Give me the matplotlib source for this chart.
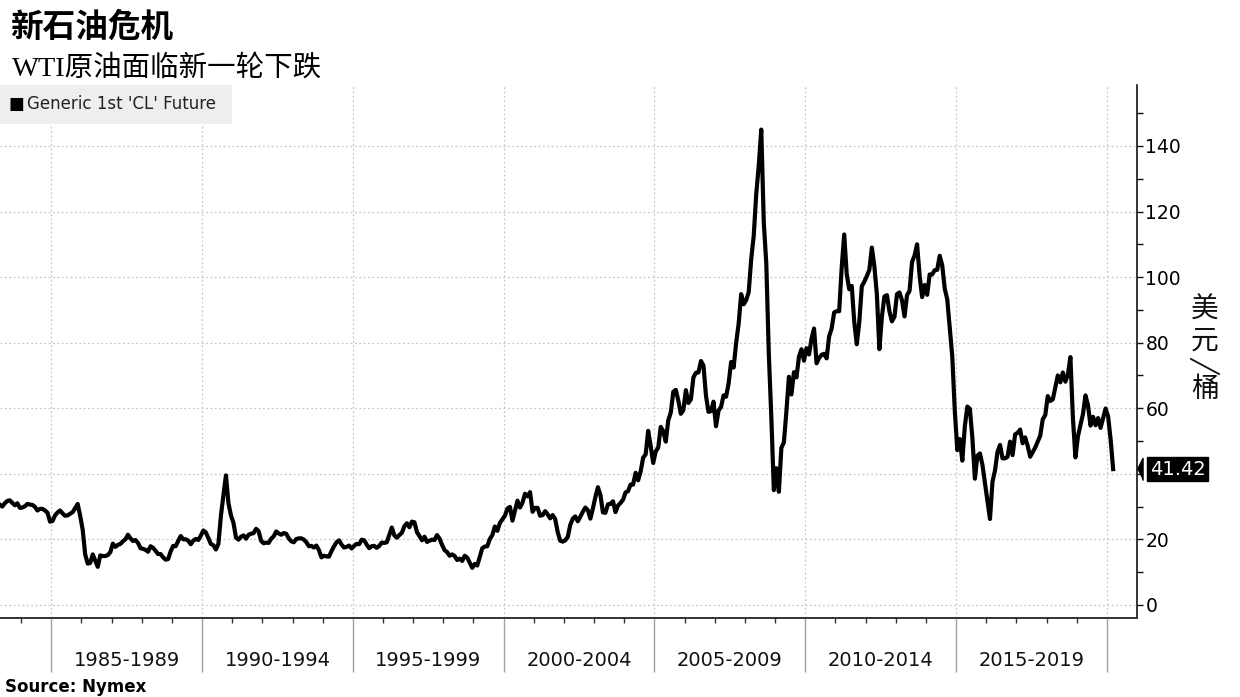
import matplotlib
matplotlib.use('Agg')
import matplotlib.pyplot as plt
import matplotlib.transforms as mtransforms
from matplotlib.patches import Rectangle
from matplotlib.lines import Line2D
import numpy as np
import pandas as pd

# monthly WTI front-month price (USD/bbl), Apr 1983 .. Mar 2020
start_month = '1983-04-01'
wti_price = [
    30.6, 30.0, 31.0, 31.7, 31.9, 31.1, 30.4, 31.0, 29.6,                    # 1983
    29.7, 30.1, 30.8, 30.6, 30.5, 29.9, 28.8, 29.3, 29.3, 28.8, 28.1, 25.4,  # 1984
    25.6, 27.3, 28.2, 28.8, 27.9, 27.2, 27.3, 27.8, 28.3, 29.5, 30.8, 27.2,  # 1985
    22.9, 15.4, 12.6, 12.8, 15.4, 13.5, 11.6, 15.1, 14.9, 14.9, 15.2, 16.1,  # 1986
    18.7, 17.7, 18.3, 18.6, 19.4, 20.0, 21.4, 20.3, 19.5, 19.8, 18.9, 17.3,  # 1987
    17.1, 16.8, 16.2, 17.9, 17.4, 16.5, 15.5, 15.5, 14.5, 13.8, 14.0, 16.3,  # 1988
    18.0, 17.9, 19.5, 21.0, 20.0, 20.0, 19.6, 18.5, 19.6, 20.1, 19.8, 21.1,  # 1989
    22.7, 22.1, 20.4, 18.6, 18.2, 16.9, 18.6, 27.2, 33.5, 39.5, 31.0, 27.3,  # 1990
    25.0, 20.5, 19.9, 20.8, 21.2, 20.2, 21.4, 21.7, 21.9, 23.2, 22.5, 19.5,  # 1991
    18.8, 19.0, 18.9, 20.2, 20.9, 22.4, 21.8, 21.4, 21.9, 21.7, 20.3, 19.4,  # 1992
    19.1, 20.1, 20.3, 20.3, 19.9, 19.1, 17.9, 18.0, 17.5, 18.1, 16.7, 14.5,  # 1993
    15.0, 14.8, 14.7, 16.4, 17.9, 19.1, 19.7, 18.4, 17.5, 17.7, 18.1, 17.2,  # 1994
    18.0, 18.6, 18.5, 19.9, 19.7, 18.4, 17.3, 17.9, 18.0, 17.4, 18.0, 19.0,  # 1995
    18.9, 19.1, 21.4, 23.6, 21.2, 20.5, 21.3, 22.0, 24.0, 24.9, 23.7, 25.4,  # 1996
    25.2, 22.2, 21.0, 19.7, 20.8, 19.2, 19.6, 19.9, 19.8, 21.3, 20.2, 18.3,  # 1997
    16.7, 16.1, 15.0, 15.4, 14.9, 13.7, 14.1, 13.4, 15.0, 14.4, 12.9, 11.3,  # 1998
    12.5, 12.0, 14.7, 17.3, 17.8, 17.9, 20.1, 21.3, 23.9, 22.6, 25.0, 26.1,  # 1999
    27.2, 29.4, 29.9, 25.7, 28.8, 31.8, 29.7, 31.2, 33.9, 33.1, 34.4, 28.4,  # 2000
    29.6, 29.6, 27.2, 27.4, 28.6, 27.6, 26.4, 27.4, 26.2, 22.2, 19.6, 19.3,  # 2001
    19.7, 20.7, 24.4, 26.3, 27.0, 25.5, 26.9, 28.4, 29.7, 28.9, 26.3, 29.4,  # 2002
    32.9, 35.9, 33.5, 28.2, 28.1, 30.7, 30.8, 31.6, 28.3, 30.3, 31.1, 32.1,  # 2003
    34.3, 34.7, 36.7, 36.7, 40.3, 38.0, 40.7, 44.9, 45.9, 53.1, 48.5, 43.3,  # 2004
    46.8, 48.0, 54.3, 53.0, 49.8, 56.3, 58.7, 65.0, 65.6, 62.3, 58.3, 59.4,  # 2005
    65.5, 61.6, 62.7, 69.4, 70.8, 70.9, 74.4, 73.0, 63.8, 58.9, 59.1, 62.0,  # 2006
    54.5, 59.3, 60.4, 63.9, 63.5, 67.5, 74.1, 72.4, 79.9, 85.8, 94.8, 91.7,  # 2007
    93.0, 95.4, 105.5, 112.6, 125.4, 134.0, 145.0, 116.7, 104.1, 76.6, 57.3, 35.0,  # 2008
    41.7, 34.5, 47.9, 49.6, 59.0, 69.6, 64.2, 71.0, 69.4, 75.7, 78.0, 74.5,  # 2009
    78.3, 76.4, 81.2, 84.3, 73.7, 75.3, 76.3, 76.6, 75.2, 81.9, 84.3, 89.2,  # 2010
    89.6, 89.6, 102.9, 113.0, 100.9, 96.3, 97.3, 86.3, 79.5, 86.3, 97.2, 98.6,  # 2011
    100.3, 102.2, 109.0, 103.3, 94.7, 78.0, 87.9, 94.1, 94.5, 89.5, 86.5, 87.9,  # 2012
    94.8, 95.3, 92.9, 88.0, 94.5, 95.8, 104.6, 106.6, 110.0, 100.5, 93.9, 97.6,  # 2013
    94.6, 100.8, 100.8, 102.1, 102.2, 106.5, 103.6, 96.5, 93.2, 84.4, 75.8, 59.3,  # 2014
    47.2, 50.6, 44.0, 54.5, 60.5, 59.8, 50.9, 38.5, 45.5, 46.2, 42.7, 37.3,  # 2015
    31.7, 26.2, 37.6, 41.0, 46.7, 48.8, 44.7, 44.7, 45.2, 49.8, 45.7, 52.0,  # 2016
    52.5, 53.5, 49.3, 51.1, 48.5, 45.2, 46.6, 48.0, 49.8, 51.6, 56.6, 57.9,  # 2017
    63.7, 62.2, 62.7, 66.3, 70.0, 67.9, 70.9, 68.1, 70.2, 75.6, 57.0, 45.0,  # 2018
    51.4, 54.9, 58.2, 63.9, 60.9, 54.7, 57.4, 54.8, 57.0, 54.0, 57.0, 59.9,  # 2019
    57.5, 50.5, 41.42,                                                       # 2020
]

period_edges = [1985, 1990, 1995, 2000, 2005, 2010, 2015, 2020]
period_labels = ['1985-1989', '1990-1994', '1995-1999', '2000-2004',
                 '2005-2009', '2010-2014', '2015-2019']
y_major = [0, 20, 40, 60, 80, 100, 120, 140]
y_tick_labels = ['0', '20', '', '60', '80', '100', '120', '140']
y_minor = [10, 30, 50, 70, 90, 110, 130, 150]

# convert months to decimal years (mid-month)
dates = pd.date_range(start_month, periods=len(wti_price), freq='MS')
x = dates.year + (dates.month - 0.5) / 12.0
last_price = wti_price[-1]

plt.rcParams['font.family'] = ['DejaVu Sans', 'Noto Sans CJK SC']

W, H = 1240, 697
fig = plt.figure(figsize=(W / 100, H / 100), dpi=100)
ax = fig.add_axes([0, 1 - 618 / H, 1137 / W, (618 - 85) / H])

ax.plot(x, wti_price, color='black', lw=3.0, zorder=3, solid_joinstyle='round')

ax.set_xlim(1983.3, 2021.0)
ax.set_ylim(-4, 158.6)

# axes styling
for s in ['top', 'left']:
    ax.spines[s].set_visible(False)
ax.spines['bottom'].set_color('#333333')
ax.spines['bottom'].set_linewidth(1.4)
ax.spines['right'].set_color('#111111')
ax.spines['right'].set_linewidth(1.2)

ax.yaxis.tick_right()
ax.set_yticks(y_major)
ax.set_yticklabels(y_tick_labels)
ax.set_yticks(y_minor, minor=True)
ax.tick_params(axis='y', which='both', direction='out', length=4, width=1,
               color='#111111', labelsize=13.5, pad=2)

ax.set_xticks(period_edges)
ax.set_xticklabels([])
ax.set_xticks(np.arange(1984, 2021), minor=True)
ax.tick_params(axis='x', which='major', direction='out', length=39, width=1,
               color='#a0a0a0')
ax.tick_params(axis='x', which='minor', direction='out', length=3.5, width=1,
               color='#333333')

ax.grid(True, which='major', linestyle=(0, (1.5, 2)), color='#c8c8c8', lw=0.9)
ax.set_axisbelow(True)

# period labels between the edges
trans = mtransforms.blended_transform_factory(ax.transData, ax.transAxes)
for i, lab in enumerate(period_labels):
    mid = (period_edges[i] + period_edges[i + 1]) / 2
    ax.text(mid, -0.079, lab, transform=trans, ha='center', va='center',
            fontsize=14, color='#111111')

# last value tag on the right axis
ytrans = mtransforms.blended_transform_factory(ax.transAxes, ax.transData)
ax.plot([1.0], [last_price], transform=ytrans, marker=[(0, 0), (0.5, 1), (0.5, -1)],
        ms=16, color='black', clip_on=False, zorder=5)
tag = mtransforms.offset_copy(ytrans, fig=fig, x=13, y=0, units='dots')
ax.text(1.0, last_price, '41.42', transform=tag, ha='left', va='center',
        fontsize=14, color='white', zorder=6,
        bbox=dict(boxstyle='square,pad=0.14', fc='black', ec='black'))

# unit label, stacked vertically (slash drawn as a turned stroke)
cjk = ['Noto Sans CJK SC', 'DejaVu Sans']
fig.text(1205 / W, 1 - 310 / H, '美', ha='center', va='center', fontsize=20,
         family=cjk, color='#111111')
fig.text(1205 / W, 1 - 341 / H, '元', ha='center', va='center', fontsize=20,
         family=cjk, color='#111111')
fig.text(1205 / W, 1 - 389 / H, '桶', ha='center', va='center', fontsize=20,
         family=cjk, color='#111111')
fig.lines.append(Line2D([1191 / W, 1219 / W], [1 - 359 / H, 1 - 374 / H],
                        transform=fig.transFigure, color='#111111', lw=1.3))

# legend box
fig.patches.append(Rectangle((0, 1 - 124 / H), 232 / W, 39 / H, transform=fig.transFigure,
                             fc='#eeeeee', ec='none', zorder=0))
fig.text(8 / W, 1 - 104 / H, '■', fontsize=12, va='center', ha='left', color='black')
fig.text(27 / W, 1 - 104 / H, "Generic 1st 'CL' Future", fontsize=12, va='center',
         ha='left', color='#222222')

# titles and source
fig.text(10 / W, 1 - 28 / H, '新石油危机', fontsize=23.5, fontweight='bold', va='center',
         ha='left', family=['Liberation Serif', 'Noto Sans CJK SC'])
fig.text(12 / W, 1 - 68 / H, 'WTI原油面临新一轮下跌', fontsize=20.5, va='center', ha='left',
         family=['Liberation Serif', 'Noto Sans CJK SC'])
fig.text(5 / W, 1 - 687 / H, 'Source: Nymex', fontsize=12, fontweight='bold',
         va='center', ha='left')

fig.savefig('out.png', dpi=100)
